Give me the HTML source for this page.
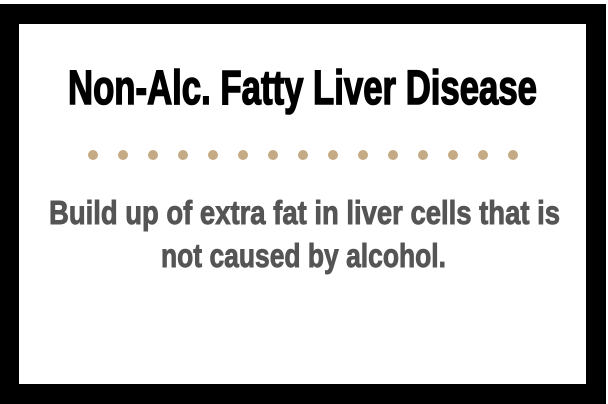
<!DOCTYPE html>
<html><head><meta charset="utf-8"><style>
html,body{margin:0;padding:0;background:#fff;width:608px;height:404px;overflow:hidden}
svg{display:block}
</style></head><body>
<svg width="608" height="404" viewBox="0 0 608 404">
  <rect x="0" y="4" width="606" height="400" fill="#000"/>
  <rect x="19" y="24" width="567" height="360" fill="#fff"/>
  <text x="302.5" y="104" text-anchor="middle" textLength="469" lengthAdjust="spacingAndGlyphs"
        font-family="'Liberation Sans Narrow','Liberation Sans',sans-serif" font-weight="bold" font-size="48" fill="#000" stroke="#000" stroke-width="1.6"
       >Non-Alc. Fatty Liver Disease</text>
  <g id="dots" fill="#c5ab85"></g>
  <text x="304.5" y="224" text-anchor="middle" textLength="511" lengthAdjust="spacingAndGlyphs"
        font-family="'Liberation Sans Narrow','Liberation Sans',sans-serif" font-weight="bold" font-size="33" fill="#555" stroke="#555" stroke-width="0.9"
       >Build up of extra fat in liver cells that is</text>
  <text x="303.5" y="267" text-anchor="middle" textLength="285" lengthAdjust="spacingAndGlyphs"
        font-family="'Liberation Sans Narrow','Liberation Sans',sans-serif" font-weight="bold" font-size="33" fill="#555" stroke="#555" stroke-width="0.9"
       >not caused by alcohol.</text>
</svg>
<script>
var g=document.getElementById('dots');
for(var i=0;i<15;i++){
  var c=document.createElementNS('http://www.w3.org/2000/svg','circle');
  c.setAttribute('cx',93+i*30);c.setAttribute('cy',155);c.setAttribute('r',5);
  
  
  g.appendChild(c);
}
</script>
</body></html>
